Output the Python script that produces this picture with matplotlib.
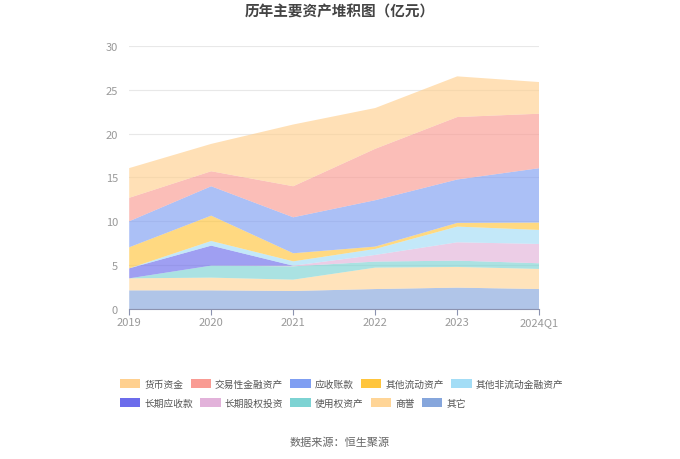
import numpy as np
import matplotlib
matplotlib.use('Agg')
import matplotlib.pyplot as plt
from matplotlib.patches import Patch

plt.rcParams['font.family'] = ['Noto Sans CJK SC', 'DejaVu Sans']

years = ['2019', '2020', '2021', '2022', '2023', '2024Q1']

# 单位：亿元
huobi = [3.39, 3.12, 7.04, 4.65, 4.64, 3.61]          # 货币资金
jiaoyi = [2.67, 1.71, 3.54, 5.86, 7.12, 6.21]         # 交易性金融资产
yingshou = [2.97, 3.35, 4.10, 5.29, 4.95, 6.20]       # 应收账款
qita_liudong = [2.40, 2.89, 0.92, 0.27, 0.42, 0.84]   # 其他流动资产
qita_feiliudong = [0.00, 0.53, 0.50, 0.68, 1.79, 1.60]  # 其他非流动金融资产
changqi_yingshou = [1.14, 2.28, 0.00, 0.00, 0.00, 0.00]  # 长期应收款
changqi_guquan = [0.00, 0.00, 0.07, 0.76, 2.09, 2.20]  # 长期股权投资
shiyongquan = [0.00, 1.37, 1.52, 0.69, 0.72, 0.65]    # 使用权资产
shangyu = [1.37, 1.45, 1.29, 2.44, 2.36, 2.29]        # 商誉
qita = [2.13, 2.13, 2.06, 2.28, 2.44, 2.28]           # 其它

names = ['货币资金', '交易性金融资产', '应收账款', '其他流动资产', '其他非流动金融资产',
         '长期应收款', '长期股权投资', '使用权资产', '商誉', '其它']
series = [huobi, jiaoyi, yingshou, qita_liudong, qita_feiliudong,
          changqi_yingshou, changqi_guquan, shiyongquan, shangyu, qita]
colors = ['#FFD08F', '#F99B93', '#7F9EF2', '#FFC53D', '#A3DDF6',
          '#6C6CEB', '#E2B2DA', '#7DD3D3', '#FFD597', '#86A6DC']

fig = plt.figure(figsize=(6.8, 4.6), dpi=100)
ax = fig.add_axes([0.19, 0.326, 0.603, 0.572])

x = np.arange(len(years))
# 从下往上堆叠
ax.stackplot(x, *series[::-1], colors=colors[::-1], alpha=0.65, linewidth=0)

ax.set_xlim(0, len(years) - 1)
ax.set_ylim(0, 30)
ax.set_yticks([0, 5, 10, 15, 20, 25, 30])
ax.set_xticks(x)
ax.set_xticklabels(years)
ax.grid(axis='y', color='#E8E8E8', linewidth=0.8)
ax.set_axisbelow(True)
for s in ['top', 'right', 'left']:
    ax.spines[s].set_visible(False)
ax.spines['bottom'].set_color('#8C93B0')
ax.tick_params(axis='y', length=0, labelsize=8, labelcolor='#999999', pad=8)
ax.tick_params(axis='x', length=4, color='#8C93B0', labelsize=8, labelcolor='#999999', pad=2)

fig.text(0.5, 0.974, '历年主要资产堆积图（亿元）', ha='center', va='center',
         fontsize=10.5, fontweight='bold', color='#444444')

handles = [Patch(facecolor=c, edgecolor='none') for c in colors]
leg_kw = dict(loc='center left', frameon=False, fontsize=7, handlelength=2.1,
              handleheight=1.0, handletextpad=0.4, columnspacing=0.75,
              borderpad=0, borderaxespad=0, labelcolor='#555555')
fig.legend(handles[:5], names[:5], ncol=5, bbox_to_anchor=(0.1765, 0.163), **leg_kw)
fig.legend(handles[5:], names[5:], ncol=5, bbox_to_anchor=(0.1765, 0.122), **leg_kw)

fig.text(0.5, 0.037, '数据来源：恒生聚源', ha='center', va='center',
         fontsize=8, color='#666666')

fig.savefig('out.png', dpi=100)
